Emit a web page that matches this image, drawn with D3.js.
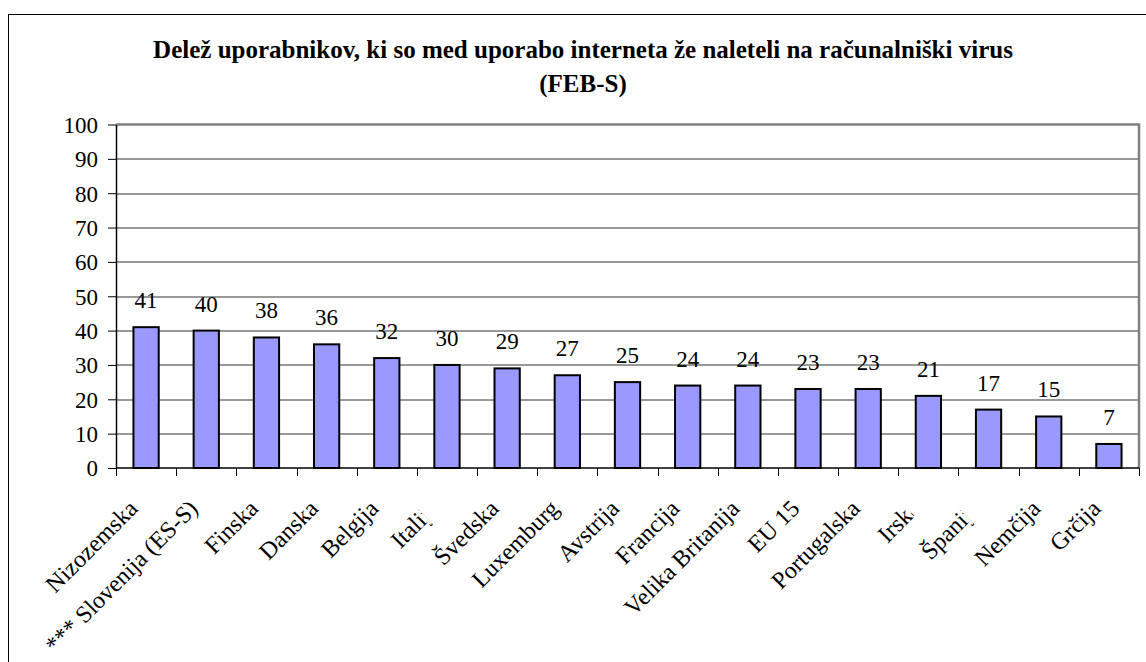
<!DOCTYPE html>
<html>
<head>
<meta charset="utf-8">
<script src="https://cdn.jsdelivr.net/npm/d3@7"></script>
<style>
  body { margin: 0; background: #fff; }
  text { font-family: "Liberation Serif", serif; fill: #000; }
</style>
</head>
<body>
<div id="plotdiv"></div>
<script>
// Data
var countries = ["Nizozemska", "*** Slovenija (ES-S)", "Finska", "Danska", "Belgija", "Italija",
  "Švedska", "Luxemburg", "Avstrija", "Francija", "Velika Britanija", "EU 15", "Portugalska",
  "Irska", "Španija", "Nemčija", "Grčija"];
var shares = [41, 40, 38, 36, 32, 30, 29, 27, 25, 24, 24, 23, 23, 21, 17, 15, 7];
var yTicks = [0, 10, 20, 30, 40, 50, 60, 70, 80, 90, 100];
var titleLines = ["Delež uporabnikov, ki so med uporabo interneta že naleteli na računalniški virus", "(FEB-S)"];

// Labels that the original chart cuts short (px hidden at the end of the text)
var clippedLabels = { "Italija": 15, "Irska": 9, "Španija": 15 };

var outerWidth = 1146;
var outerHeight = 662;
var margin = { left: 116, top: 124.5, right: 7, bottom: 194 };
var innerWidth = outerWidth - margin.left - margin.right;
var innerHeight = 468 - margin.top;
var serif = "'Liberation Serif', serif";

var svg = d3.select("#plotdiv").append("svg")
  .attr("width", outerWidth)
  .attr("height", outerHeight);

// Outer chart border
svg.append("rect")
  .attr("x", 8.5).attr("y", 14.5)
  .attr("width", outerWidth + 20).attr("height", outerHeight + 20)
  .attr("fill", "none").attr("stroke", "#000").attr("stroke-width", 1);

// Title
svg.append("g").selectAll("text").data(titleLines).enter().append("text")
  .attr("x", 583)
  .attr("y", function(d, i) { return 58 + i * 34; })
  .attr("text-anchor", "middle")
  .attr("font-family", serif)
  .attr("font-size", "25px")
  .attr("font-weight", "bold")
  .text(function(d) { return d; });

var g = svg.append("g")
  .attr("transform", "translate(" + margin.left + "," + margin.top + ")");

// Scales
var xSlot = d3.scaleBand().domain(countries).range([0, innerWidth]);
var xBar = d3.scaleBand().domain(countries).range([0, innerWidth])
  .paddingInner(0.58).paddingOuter(0.29);
var y = d3.scaleLinear().domain([0, 100]).range([innerHeight, 0]);

// Gridlines
g.append("g").selectAll("line").data(yTicks.slice(1, -1)).enter().append("line")
  .attr("x1", 0).attr("x2", innerWidth)
  .attr("y1", function(d) { return Math.round(y(d)) + 0.5; })
  .attr("y2", function(d) { return Math.round(y(d)) + 0.5; })
  .attr("stroke", "#333").attr("stroke-width", 1);

// Plot area border (top and right, grey)
g.append("path")
  .attr("d", "M0,0H" + innerWidth + "V" + innerHeight)
  .attr("fill", "none").attr("stroke", "#808080").attr("stroke-width", 2.5);

// Bars
g.append("g").selectAll("rect").data(shares).enter().append("rect")
  .attr("x", function(d, i) { return xBar(countries[i]); })
  .attr("y", function(d) { return y(d); })
  .attr("width", xBar.bandwidth())
  .attr("height", function(d) { return innerHeight - y(d); })
  .attr("fill", "#9999ff")
  .attr("stroke", "#000").attr("stroke-width", 2);

// Value labels
g.append("g").selectAll("text").data(shares).enter().append("text")
  .attr("x", function(d, i) { return xBar(countries[i]) + xBar.bandwidth() / 2; })
  .attr("y", function(d) { return y(d) - 19; })
  .attr("text-anchor", "middle")
  .attr("font-family", serif)
  .attr("font-size", "23px")
  .text(function(d) { return d; });

// Y axis
var axisY = d3.axisLeft(y).tickValues(yTicks).tickSize(8).tickPadding(10).tickSizeOuter(0);
var gAxisY = g.append("g").call(axisY)
  .attr("font-family", serif);
gAxisY.select(".domain").attr("stroke", "#000").attr("stroke-width", 1.5);
gAxisY.selectAll(".tick line").attr("stroke", "#000");
gAxisY.selectAll("text")
  .attr("font-size", "23px")
  .attr("dy", "0.34em");

// X axis line and ticks at slot boundaries
var gAxisX = g.append("g").attr("transform", "translate(0," + innerHeight + ")");
gAxisX.append("line")
  .attr("x1", 0).attr("x2", innerWidth)
  .attr("stroke", "#000").attr("stroke-width", 1.5);
gAxisX.selectAll(".xtick").data(countries.concat(["end"])).enter().append("line")
  .attr("class", "xtick")
  .attr("x1", function(d, i) { return Math.round(i * xSlot.step()) + 0.5; })
  .attr("x2", function(d, i) { return Math.round(i * xSlot.step()) + 0.5; })
  .attr("y1", 0).attr("y2", 8)
  .attr("stroke", "#000");

// Category labels, rotated
var defs = svg.append("defs");
var labels = gAxisX.selectAll(".xlabel").data(countries).enter().append("g")
  .attr("class", "xlabel")
  .attr("transform", function(d) {
    return "translate(" + (xBar(d) + xBar.bandwidth() / 2 - 7) + ",42) rotate(-45)";
  });
labels.each(function(d, i) {
  var t = d3.select(this).append("text")
    .attr("text-anchor", "end")
    .attr("font-family", serif)
    .attr("font-size", "24px")
    .text(d);
  if (clippedLabels[d]) {
    defs.append("clipPath").attr("id", "clip" + i)
      .append("rect")
      .attr("x", -400).attr("y", -40)
      .attr("width", 400 - clippedLabels[d]).attr("height", 80);
    t.attr("clip-path", "url(#clip" + i + ")");
  }
});
</script>
</body>
</html>
